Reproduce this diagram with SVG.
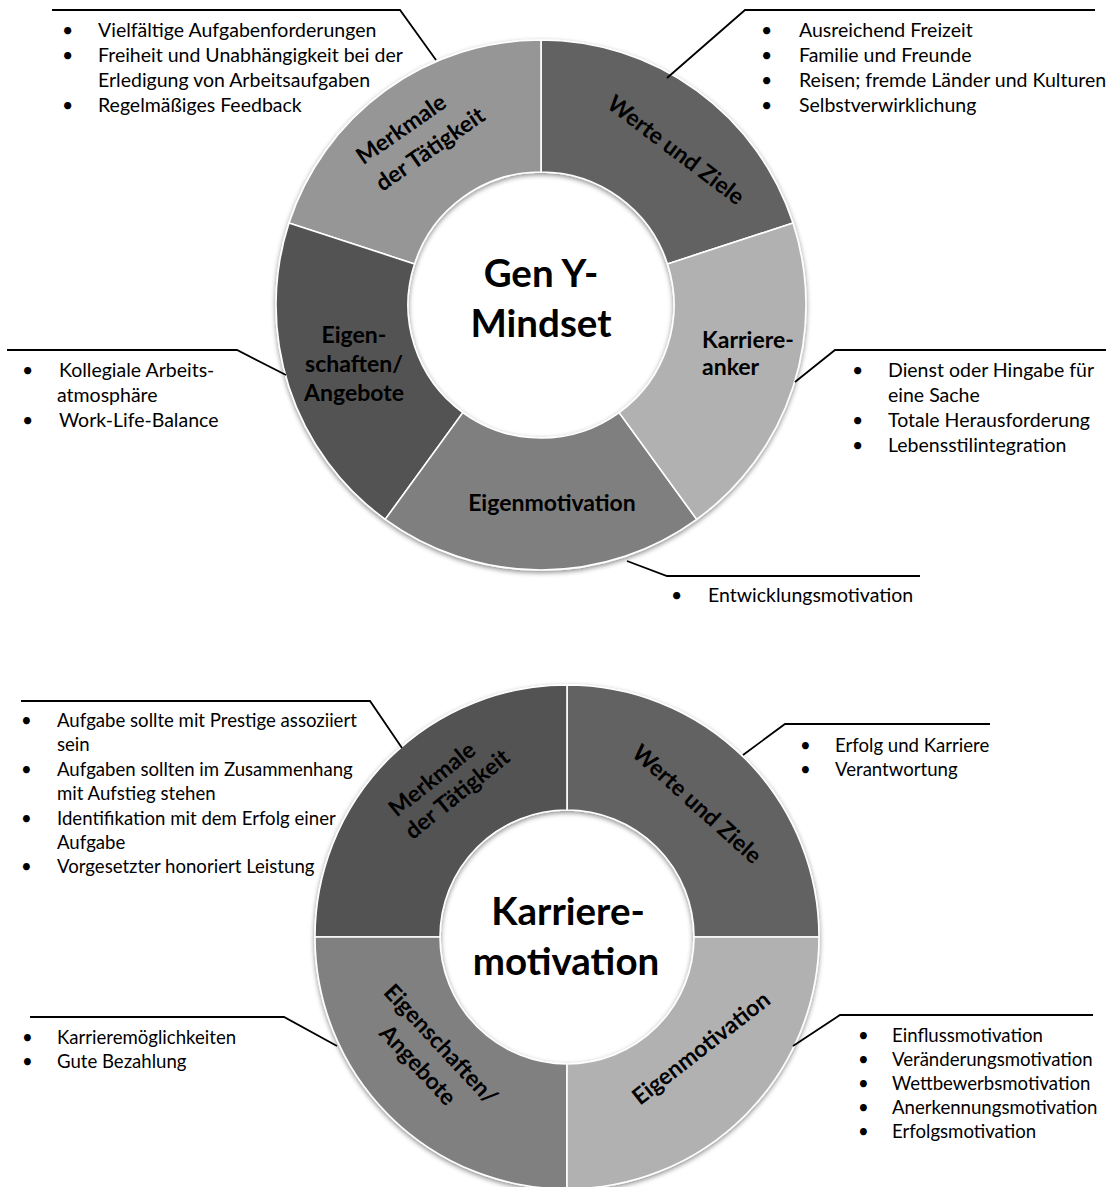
<svg xmlns="http://www.w3.org/2000/svg" width="1116" height="1187" viewBox="0 0 1116 1187">
  <defs>
    <filter id="ringShadow" x="-10%" y="-10%" width="120%" height="120%">
      <feGaussianBlur in="SourceAlpha" stdDeviation="2.5"/>
      <feOffset dy="2" result="blur"/>
      <feFlood flood-color="#000" flood-opacity="0.45"/>
      <feComposite in2="blur" operator="in"/>
      <feMerge><feMergeNode/><feMergeNode in="SourceGraphic"/></feMerge>
    </filter>
    <style>
      .seg { stroke: #ffffff; stroke-width: 1.6; }
      .label { font-family: Lato, "Liberation Sans", sans-serif; font-weight: bold; font-size: 23px; fill: #000; }
      .hub { font-family: Lato, "Liberation Sans", sans-serif; font-weight: bold; font-size: 38.5px; fill: #000; text-anchor: middle; }
      .item { font-family: Lato, "Liberation Sans", sans-serif; font-size: 19.5px; fill: #000; }
      .item.small { font-size: 18.6px; }
      .lead { fill: none; stroke: #000; stroke-width: 1.8; }
      .mid { text-anchor: middle; }
    </style>
  </defs>
  <rect width="1116" height="1187" fill="#ffffff"/>

  <!-- upper ring: Gen Y-Mindset, five 72 degree segments -->
  <g id="ring-geny" filter="url(#ringShadow)">
    <path id="geny-werte" class="seg" fill="#626262" d="M793.03,223.11 A265,265 0 0 0 541,40 L541,172 A133,133 0 0 1 667.49,263.90 Z"/>
    <path id="geny-merkmale" class="seg" fill="#969696" d="M541,40 A265,265 0 0 0 288.97,223.11 L414.51,263.90 A133,133 0 0 1 541,172 Z"/>
    <path id="geny-eigenschaften" class="seg" fill="#525252" d="M288.97,223.11 A265,265 0 0 0 385.24,519.39 L462.82,412.60 A133,133 0 0 1 414.51,263.90 Z"/>
    <path id="geny-eigenmotivation" class="seg" fill="#7f7f7f" d="M385.24,519.39 A265,265 0 0 0 696.76,519.39 L619.18,412.60 A133,133 0 0 1 462.82,412.60 Z"/>
    <path id="geny-karriereanker" class="seg" fill="#b1b1b1" d="M696.76,519.39 A265,265 0 0 0 793.03,223.11 L667.49,263.90 A133,133 0 0 1 619.18,412.60 Z"/>
  </g>

  <!-- lower ring: Karrieremotivation, four quadrants -->
  <g id="ring-karriere" filter="url(#ringShadow)">
    <path id="km-werte" class="seg" fill="#626262" d="M819,937 A252,252 0 0 0 567,685 L567,810 A127,127 0 0 1 694,937 Z"/>
    <path id="km-merkmale" class="seg" fill="#525252" d="M567,685 A252,252 0 0 0 315,937 L440,937 A127,127 0 0 1 567,810 Z"/>
    <path id="km-eigenschaften" class="seg" fill="#808080" d="M315,937 A252,252 0 0 0 567,1189 L567,1064 A127,127 0 0 1 440,937 Z"/>
    <path id="km-eigenmotivation" class="seg" fill="#b1b1b1" d="M567,1189 A252,252 0 0 0 819,937 L694,937 A127,127 0 0 1 567,1064 Z"/>
  </g>

  <!-- leader lines from the segments to their lists -->
  <g id="connectors">
    <path class="lead" d="M52,10 H400 L436,60"/>
    <path class="lead" d="M667,78 L745,10 H1095"/>
    <path class="lead" d="M7,350 H237 L286,375"/>
    <path class="lead" d="M795,382 L835,350 H1106"/>
    <path class="lead" d="M627,561 L667,576 H920"/>
    <path class="lead" d="M21,701 H370 L402,748"/>
    <path class="lead" d="M743,755 L785,724 H990"/>
    <path class="lead" d="M30,1017 H284 L337,1046"/>
    <path class="lead" d="M793,1046 L840,1015 H1093"/>
  </g>

  <!-- hub titles -->
  <g id="hub-geny">
    <text class="hub" x="541" y="287">Gen Y-</text>
    <text class="hub" x="541" y="337">Mindset</text>
  </g>
  <g id="hub-karriere">
    <text class="hub" x="568" y="925">Karriere-</text>
    <text class="hub" x="566" y="975">motivation</text>
  </g>

  <!-- segment labels, upper ring -->
  <g id="label-geny-merkmale" class="label mid">
    <text transform="translate(401,129) rotate(-35)" y="8">Merkmale</text>
    <text transform="translate(430,149) rotate(-35)" y="8">der Tätigkeit</text>
  </g>
  <g id="label-geny-werte" class="label mid">
    <text transform="translate(676,150) rotate(37)" y="8">Werte und Ziele</text>
  </g>
  <g id="label-geny-eigenschaften" class="label mid">
    <text x="354" y="343">Eigen-</text>
    <text x="354" y="372">schaften/</text>
    <text x="354" y="401">Angebote</text>
  </g>
  <g id="label-geny-karriereanker" class="label">
    <text x="702" y="348">Karriere-</text>
    <text x="702" y="375">anker</text>
  </g>
  <g id="label-geny-eigenmotivation" class="label mid">
    <text x="552" y="511">Eigenmotivation</text>
  </g>

  <!-- segment labels, lower ring -->
  <g id="label-km-merkmale" class="label mid">
    <text transform="translate(432,779) rotate(-39)" y="8">Merkmale</text>
    <text transform="translate(457,794) rotate(-39)" y="8">der Tätigkeit</text>
  </g>
  <g id="label-km-werte" class="label mid">
    <text transform="translate(697,804) rotate(42)" y="8">Werte und Ziele</text>
  </g>
  <g id="label-km-eigenschaften" class="label mid">
    <text transform="translate(441,1044) rotate(47)" y="8">Eigenschaften/</text>
    <text transform="translate(418,1065) rotate(47)" y="8">Angebote</text>
  </g>
  <g id="label-km-eigenmotivation" class="label mid">
    <text transform="translate(701,1048) rotate(-38)" y="8">Eigenmotivation</text>
  </g>

  <!-- bullet lists, upper ring -->
  <g id="list-geny-merkmale" class="item">
    <text x="62" y="37">•</text><text x="98" y="37">Vielfältige Aufgabenforderungen</text>
    <text x="62" y="62">•</text><text x="98" y="62">Freiheit und Unabhängigkeit bei der</text>
    <text x="98" y="87">Erledigung von Arbeitsaufgaben</text>
    <text x="62" y="112">•</text><text x="98" y="112">Regelmäßiges Feedback</text>
  </g>
  <g id="list-geny-werte" class="item">
    <text x="761" y="37">•</text><text x="799" y="37">Ausreichend Freizeit</text>
    <text x="761" y="62">•</text><text x="799" y="62">Familie und Freunde</text>
    <text x="761" y="87">•</text><text x="799" y="87">Reisen; fremde Länder und Kulturen</text>
    <text x="761" y="112">•</text><text x="799" y="112">Selbstverwirklichung</text>
  </g>
  <g id="list-geny-eigenschaften" class="item">
    <text x="22" y="377">•</text><text x="59" y="377">Kollegiale Arbeits-</text>
    <text x="57" y="402">atmosphäre</text>
    <text x="22" y="427">•</text><text x="59" y="427">Work-Life-Balance</text>
  </g>
  <g id="list-geny-karriereanker" class="item">
    <text x="852" y="377">•</text><text x="888" y="377">Dienst oder Hingabe für</text>
    <text x="888" y="402">eine Sache</text>
    <text x="852" y="427">•</text><text x="888" y="427">Totale Herausforderung</text>
    <text x="852" y="452">•</text><text x="888" y="452">Lebensstilintegration</text>
  </g>
  <g id="list-geny-eigenmotivation" class="item">
    <text x="671" y="602">•</text><text x="708" y="602">Entwicklungsmotivation</text>
  </g>

  <!-- bullet lists, lower ring -->
  <g id="list-km-merkmale" class="item small">
    <text x="21" y="727">•</text><text x="57" y="727">Aufgabe sollte mit Prestige assoziiert</text>
    <text x="57" y="751">sein</text>
    <text x="21" y="776">•</text><text x="57" y="776">Aufgaben sollten im Zusammenhang</text>
    <text x="57" y="800">mit Aufstieg stehen</text>
    <text x="21" y="825">•</text><text x="57" y="825">Identifikation mit dem Erfolg einer</text>
    <text x="57" y="849">Aufgabe</text>
    <text x="21" y="873">•</text><text x="57" y="873">Vorgesetzter honoriert Leistung</text>
  </g>
  <g id="list-km-werte" class="item small">
    <text x="800" y="752">•</text><text x="835" y="752">Erfolg und Karriere</text>
    <text x="800" y="776">•</text><text x="835" y="776">Verantwortung</text>
  </g>
  <g id="list-km-eigenschaften" class="item small">
    <text x="22" y="1044">•</text><text x="57" y="1044">Karrieremöglichkeiten</text>
    <text x="22" y="1068">•</text><text x="57" y="1068">Gute Bezahlung</text>
  </g>
  <g id="list-km-eigenmotivation" class="item small">
    <text x="858" y="1042">•</text><text x="892" y="1042">Einflussmotivation</text>
    <text x="858" y="1066">•</text><text x="892" y="1066">Veränderungsmotivation</text>
    <text x="858" y="1090">•</text><text x="892" y="1090">Wettbewerbsmotivation</text>
    <text x="858" y="1114">•</text><text x="892" y="1114">Anerkennungsmotivation</text>
    <text x="858" y="1138">•</text><text x="892" y="1138">Erfolgsmotivation</text>
  </g>
</svg>
